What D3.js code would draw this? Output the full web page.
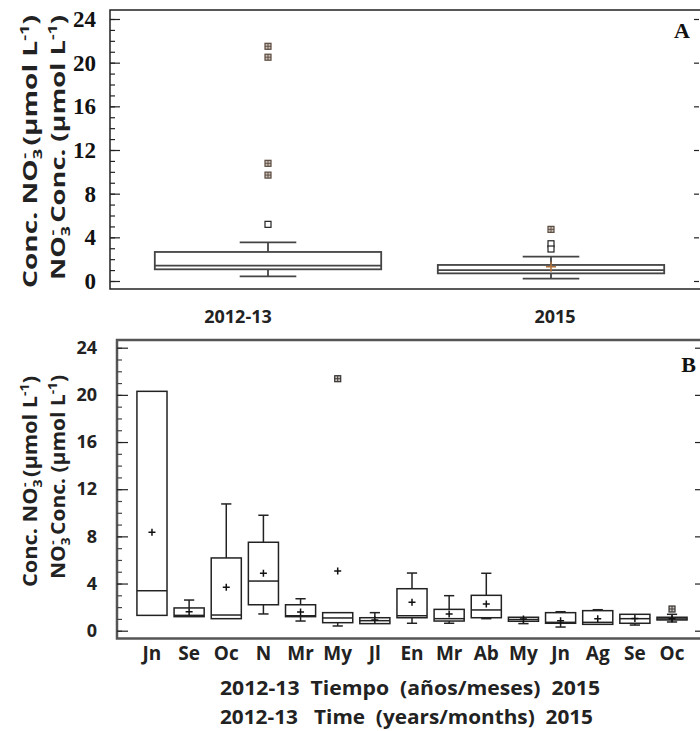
<!DOCTYPE html>
<html>
<head>
<meta charset="utf-8">
<script src="https://cdn.jsdelivr.net/npm/d3@7"></script>
<style>
  body { margin: 0; background: #fff; }
  svg { display: block; }
</style>
</head>
<body>
<svg id="chart" width="700" height="731"></svg>
<script>
// ---- Panel A: nitrate by sampling period ----
const periods = ['2012-13', '2015'];
const periodQ1 = [1.07, 0.70];
const periodMedian = [1.40, 1.00];
const periodQ3 = [2.66, 1.47];
const periodLow = [0.43, 0.21];
const periodHigh = [3.54, 2.23];
const periodMean = [null, 1.31];
const periodFarOut = [[21.5, 20.5, 10.78, 9.7], [4.73]];
const periodOutside = [[5.19], [3.41, 2.93]];

// ---- Panel B: nitrate by month ----
const months = ['Jn', 'Se', 'Oc', 'N', 'Mr', 'My', 'Jl', 'En', 'Mr', 'Ab', 'My', 'Jn', 'Ag', 'Se', 'Oc'];
const monthQ1 = [1.30, 1.19, 1.02, 2.20, 1.19, 0.68, 0.60, 1.10, 0.82, 1.10, 0.80, 0.63, 0.54, 0.63, 0.91];
const monthMedian = [3.39, 1.30, 1.33, 4.21, 1.27, 1.08, 0.85, 1.27, 1.02, 1.76, 0.95, 0.71, 0.71, 1.02, 1.00];
const monthQ3 = [20.3, 1.93, 6.17, 7.50, 2.20, 1.53, 1.10, 3.56, 1.81, 3.00, 1.14, 1.53, 1.70, 1.39, 1.14];
const monthLow = [1.30, 1.19, 1.02, 1.42, 0.82, 0.40, 0.60, 0.63, 0.63, 1.02, 0.60, 0.31, 0.54, 0.48, 0.74];
const monthHigh = [20.3, 2.60, 10.75, 9.79, 2.71, 1.53, 1.53, 4.89, 2.97, 4.87, 1.14, 1.61, 1.78, 1.39, 1.39];
const monthMean = [8.35, 1.61, 3.68, 4.87, 1.59, 5.06, 0.91, 2.41, 1.42, 2.26, 0.99, 0.85, 1.02, 1.03, 1.02];
const monthFarOut = [[], [], [], [], [], [21.37], [], [], [], [], [], [], [], [], [1.84]];

const majorTicks = [0, 4, 8, 12, 16, 20, 24];
const minorTicks = d3.range(0, 25);
const yDomain = [0, 24];

const svg = d3.select('#chart');
const sans = "'Open Sans', 'DejaVu Sans', sans-serif";
const serif = "'Liberation Serif', 'Times New Roman', serif";

// Draws the two-line rotated y title with NO3- chemistry notation
function yTitle(g, x, yEnd, len, first) {
  const t = g.append('text')
    .attr('transform', `translate(${x},${yEnd}) rotate(-90)`)
    .attr('text-anchor', 'end')
    .attr('font-family', sans)
    .attr('font-weight', 700)
    .attr('font-size', 20)
    .attr('fill', '#222')
    .attr('textLength', len)
    .attr('lengthAdjust', 'spacingAndGlyphs');
  const no3 = () => {
    t.append('tspan').text('NO');
    t.append('tspan').attr('font-size', 13).attr('dy', 5).text('3');
    t.append('tspan').attr('font-size', 13).attr('dx', -7).attr('dy', -13).text('-');
    t.append('tspan').attr('dy', 8).text('\u00A0');
  };
  if (first) {
    t.append('tspan').text('Conc.\u00A0');
    no3();
    t.append('tspan').text('(\u00B5mol L');
  } else {
    no3();
    t.append('tspan').text('Conc. (\u00B5mol L');
  }
  t.append('tspan').attr('font-size', 13).attr('dy', -8).text('-1');
  t.append('tspan').attr('dy', 8).text(')');
}

function outlierBox(g, cx, cy, hatched, color) {
  const s = 6;
  g.append('rect')
    .attr('x', cx - s / 2).attr('y', cy - s / 2)
    .attr('width', s).attr('height', s)
    .attr('fill', hatched ? '#c9c0b8' : '#fff')
    .attr('stroke', color).attr('stroke-width', 1.2);
  if (hatched) {
    g.append('line').attr('x1', cx).attr('x2', cx).attr('y1', cy - s / 2).attr('y2', cy + s / 2)
      .attr('stroke', color).attr('stroke-width', 0.9);
    g.append('line').attr('x1', cx - s / 2).attr('x2', cx + s / 2).attr('y1', cy).attr('y2', cy)
      .attr('stroke', color).attr('stroke-width', 0.9);
  }
}

function drawBoxes(g, x, y, cats, q1, med, q3, lo, hi, mean, capRatio, strokeColor, strokeW, meanColor, meanArm) {
  const bw = x.bandwidth();
  cats.forEach((c, i) => {
    const cx = x(c) + bw / 2;
    const cap = bw * capRatio;
    const bg = g.append('g');
    // whiskers
    if (hi[i] > q3[i]) {
      bg.append('line').attr('x1', cx).attr('x2', cx).attr('y1', y(q3[i])).attr('y2', y(hi[i]))
        .attr('stroke', strokeColor).attr('stroke-width', strokeW);
      bg.append('line').attr('x1', cx - cap / 2).attr('x2', cx + cap / 2).attr('y1', y(hi[i])).attr('y2', y(hi[i]))
        .attr('stroke', strokeColor).attr('stroke-width', strokeW);
    }
    if (lo[i] < q1[i]) {
      bg.append('line').attr('x1', cx).attr('x2', cx).attr('y1', y(q1[i])).attr('y2', y(lo[i]))
        .attr('stroke', strokeColor).attr('stroke-width', strokeW);
      bg.append('line').attr('x1', cx - cap / 2).attr('x2', cx + cap / 2).attr('y1', y(lo[i])).attr('y2', y(lo[i]))
        .attr('stroke', strokeColor).attr('stroke-width', strokeW);
    }
    // box
    bg.append('rect')
      .attr('x', x(c)).attr('y', y(q3[i]))
      .attr('width', bw).attr('height', y(q1[i]) - y(q3[i]))
      .attr('fill', 'none').attr('stroke', strokeColor).attr('stroke-width', strokeW);
    bg.append('line').attr('x1', x(c)).attr('x2', x(c) + bw).attr('y1', y(med[i])).attr('y2', y(med[i]))
      .attr('stroke', strokeColor).attr('stroke-width', strokeW);
    // mean marker
    if (mean[i] != null) {
      const my = y(mean[i]);
      bg.append('path')
        .attr('d', `M${cx - meanArm},${my}H${cx + meanArm}M${cx},${my - meanArm}V${my + meanArm}`)
        .attr('stroke', meanColor).attr('stroke-width', 1.5).attr('fill', 'none');
    }
  });
}

function styleAxis(g) {
  g.select('.domain').remove();
  g.selectAll('.tick line').attr('stroke', '#222').attr('stroke-width', 1.2);
}

// ================= Panel A =================
{
  const left = 110, top = 10, bottom = 289, right = 703;
  const g = svg.append('g');
  const y = d3.scaleLinear().domain(yDomain).range([281, 19]);
  const x = d3.scaleBand().domain(periods).range([126.5, 692.5]).paddingInner(0.2).paddingOuter(0.1);

  g.append('rect').attr('x', left).attr('y', top).attr('width', right - left).attr('height', bottom - top)
    .attr('fill', 'none').attr('stroke', '#222').attr('stroke-width', 1.5);

  const minor = g.append('g').attr('transform', `translate(${left},0)`)
    .call(d3.axisLeft(y).tickValues(minorTicks).tickSize(-5).tickFormat(''));
  styleAxis(minor);
  const major = g.append('g').attr('transform', `translate(${left},0)`)
    .call(d3.axisLeft(y).tickValues(majorTicks).tickSize(-10).tickPadding(14));
  styleAxis(major);
  major.attr('font-family', serif);
  major.selectAll('text').style('font-family', serif).style('font-weight', 700)
    .style('font-size', '23px').attr('fill', '#111');

  const rightAx = g.append('g').attr('transform', `translate(699,0)`)
    .call(d3.axisLeft(y).tickValues(majorTicks).tickSize(5).tickFormat(''));
  styleAxis(rightAx);

  drawBoxes(g, x, y, periods, periodQ1, periodMedian, periodQ3, periodLow, periodHigh, periodMean,
    0.25, '#444', 1.8, '#b0703a', 5);

  periods.forEach((p, i) => {
    const cx = x(p) + x.bandwidth() / 2;
    periodFarOut[i].forEach(v => outlierBox(g, cx, y(v), true, '#5a4a3e'));
    periodOutside[i].forEach(v => outlierBox(g, cx, y(v), false, '#222'));
  });

  // category labels under panel A
  const labelShift = [-30, 4];
  periods.forEach((p, i) => {
    g.append('text')
      .attr('x', x(p) + x.bandwidth() / 2 + labelShift[i]).attr('y', 322.5)
      .attr('text-anchor', 'middle')
      .attr('font-family', sans).attr('font-weight', 700).attr('font-size', 18)
      .attr('fill', '#222').text(p);
  });

  g.append('text').attr('x', 690).attr('y', 38).attr('text-anchor', 'end')
    .attr('font-family', serif).attr('font-weight', 700).attr('font-size', 22)
    .attr('fill', '#111').text('A');

  yTitle(g, 37, 15, 273, true);
  yTitle(g, 65, 15, 265, false);
}

// ================= Panel B =================
{
  const left = 117, top = 340, bottom = 638.5, right = 703;
  const g = svg.append('g');
  const y = d3.scaleLinear().domain(yDomain).range([630.7, 347.7]);
  const idx = d3.range(months.length);
  const x = d3.scaleBand().domain(idx).range([133.4, 690.6]).paddingInner(0.19).paddingOuter(0.095);

  g.append('rect').attr('x', left).attr('y', top).attr('width', right - left).attr('height', bottom - top)
    .attr('fill', 'none').attr('stroke', '#555').attr('stroke-width', 2.5);

  const minor = g.append('g').attr('transform', `translate(${left},0)`)
    .call(d3.axisLeft(y).tickValues(minorTicks).tickSize(-5).tickFormat(''));
  styleAxis(minor);
  minor.selectAll('.tick line').attr('stroke', '#444');
  const major = g.append('g').attr('transform', `translate(${left},0)`)
    .call(d3.axisLeft(y).tickValues(majorTicks).tickSize(-11).tickPadding(20));
  styleAxis(major);
  major.selectAll('text').attr('font-family', sans).attr('font-weight', 700)
    .attr('font-size', 18).attr('fill', '#222');

  const rightAx = g.append('g').attr('transform', `translate(700,0)`)
    .call(d3.axisLeft(y).tickValues(majorTicks).tickSize(5).tickFormat(''));
  styleAxis(rightAx);

  const xAx = g.append('g').attr('transform', `translate(0,${bottom})`)
    .call(d3.axisBottom(x).tickSize(0).tickPadding(8).tickFormat(i => months[i]));
  xAx.select('.domain').remove();
  xAx.selectAll('text').attr('font-family', sans).attr('font-weight', 700)
    .attr('font-size', 19).attr('fill', '#222');

  drawBoxes(g, x, y, idx, monthQ1, monthMedian, monthQ3, monthLow, monthHigh, monthMean,
    0.34, '#222', 1.5, '#111', 3.5);

  idx.forEach(i => {
    const cx = x(i) + x.bandwidth() / 2;
    monthFarOut[i].forEach(v => outlierBox(g, cx, y(v), true, '#333'));
  });

  g.append('text').attr('x', 696).attr('y', 372).attr('text-anchor', 'end')
    .attr('font-family', serif).attr('font-weight', 700).attr('font-size', 22)
    .attr('fill', '#111').text('B');

  yTitle(g, 37, 376, 211, true);
  yTitle(g, 65, 375, 204, false);

  g.append('text').attr('x', 220).attr('y', 695)
    .attr('font-family', sans).attr('font-weight', 700).attr('font-size', 19)
    .attr('fill', '#222').attr('xml:space', 'preserve')
    .attr('textLength', 380).attr('lengthAdjust', 'spacingAndGlyphs')
    .text('2012-13  Tiempo  (a\u00F1os/meses)  2015');
  g.append('text').attr('x', 220).attr('y', 724)
    .attr('font-family', sans).attr('font-weight', 700).attr('font-size', 19)
    .attr('fill', '#222').attr('xml:space', 'preserve')
    .attr('textLength', 373).attr('lengthAdjust', 'spacingAndGlyphs')
    .text('2012-13   Time  (years/months)  2015');
}
</script>
</body>
</html>
